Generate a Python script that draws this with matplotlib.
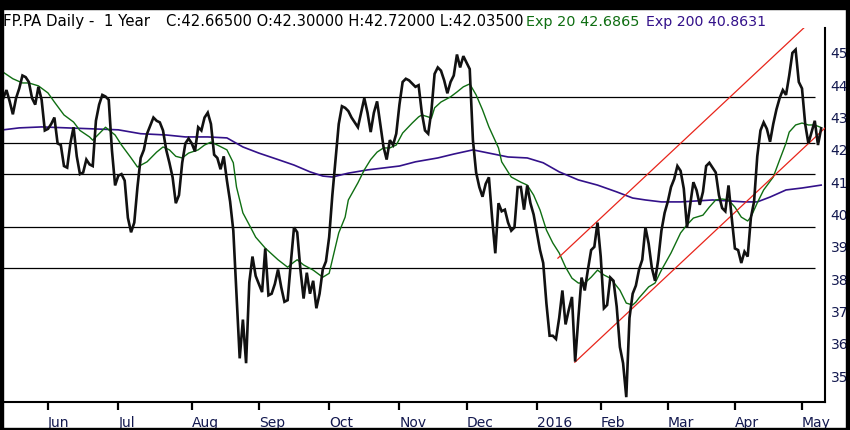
import matplotlib
matplotlib.use("Agg")
import matplotlib.pyplot as plt
from matplotlib.patches import Rectangle

# daily closes, trading day 0 = 12 May 2015
close = [
    43.6, 43.85, 43.5, 43.1, 43.6, 43.9, 44.3, 44.25, 44.1, 43.6,
    43.4, 43.95, 43.55, 42.6, 42.65, 42.8, 43.0, 42.2, 42.15, 41.5,
    41.45, 42.2, 42.7, 41.8, 41.25, 41.3, 41.7, 41.55, 41.5, 42.9,
    43.4, 43.7, 43.65, 43.55, 42.0, 40.9, 41.2, 41.25, 41.05, 39.9,
    39.45, 39.75, 40.85, 41.75, 42.0, 42.5, 42.75, 43.0, 42.9, 42.85,
    42.6, 42.0, 41.6, 41.15, 40.35, 40.6, 41.6, 42.2, 42.35, 42.2,
    41.95, 42.7, 42.6, 43.0, 43.15, 42.8, 41.85, 41.75, 41.4, 41.8,
    41.05, 40.4, 39.5, 37.5, 35.55, 36.75, 35.4, 37.9, 38.7, 38.1,
    37.85, 37.6, 38.95, 37.5, 37.55, 37.85, 38.3, 37.75, 37.3, 37.35,
    38.5, 39.6, 39.45, 38.3, 37.4, 38.2, 37.55, 37.95, 37.1, 37.55,
    38.3, 38.55, 39.3, 40.6, 41.7, 42.8, 43.35, 43.3, 43.2, 43.0,
    42.85, 42.7, 43.15, 43.6, 43.15, 42.55, 43.15, 43.5, 42.8, 42.1,
    41.7, 42.3, 42.15, 42.5, 43.4, 44.1, 44.2, 44.15, 44.05, 43.95,
    44.0, 43.15, 42.6, 42.5, 43.2, 44.35, 44.55, 44.45, 44.15, 43.75,
    44.1, 44.3, 44.95, 44.55, 44.9, 44.7, 44.5, 42.3, 41.3, 40.85,
    40.55, 40.95, 41.15, 39.9, 38.8, 40.35, 40.1, 40.15, 39.75, 39.5,
    39.6, 40.85, 40.85, 40.15, 40.9, 40.35, 40.0, 39.45, 38.9, 38.5,
    37.25, 36.25, 36.25, 36.15, 36.8, 37.65, 36.6, 37.05, 37.45, 35.45,
    36.8, 38.05, 37.65, 38.3, 38.9, 39.0, 39.75, 38.7, 37.1, 37.2,
    38.05, 37.95, 37.15, 35.9, 35.4, 34.35, 36.8, 37.55, 37.8, 38.3,
    38.6, 39.6, 39.1, 38.35, 37.95, 38.6, 39.5, 40.05, 40.4, 40.85,
    41.1, 41.5, 41.35, 40.8, 39.6, 40.3, 41.0, 40.75, 40.3, 40.7,
    41.5, 41.6, 41.45, 41.3, 40.6, 40.2, 40.1, 40.9, 39.9, 38.95,
    38.9, 38.5, 38.85, 38.7, 39.9, 40.4, 41.8, 42.6, 42.85, 42.65,
    42.25, 42.8, 43.25, 43.6, 43.85, 43.7, 44.3, 45.0, 45.1, 44.1,
    43.9, 42.8, 42.2, 42.55, 42.9, 42.15, 42.665,
]

ema20_day = [0, 3, 6, 8, 11, 14, 16, 19, 22, 24, 27, 28, 30, 32, 35, 37, 40, 42,
             45, 48, 50, 52, 54, 56, 58, 61, 63, 65, 67, 70, 72, 73, 75, 77, 79,
             82, 86, 89, 91, 92, 94, 97, 100, 102, 103, 105, 107, 108, 111, 113,
             115, 117, 119, 121, 123, 125, 128, 130, 131, 133, 134, 135, 137, 140,
             142, 144, 146, 148, 150, 152, 155, 156, 159, 162, 164, 166, 168, 170,
             172, 174, 176, 178, 180, 182, 184, 186, 188, 190, 193, 195, 197, 198,
             199, 202, 204, 206, 209, 212, 214, 216, 219, 221, 223, 225, 227, 229,
             231, 233, 234, 236, 238, 241, 243, 245, 246, 248, 250, 252, 254, 256]
ema20 = [44.4, 44.2, 44.07, 44.07, 43.98, 43.76, 43.48, 43.08, 42.86, 42.6, 42.4,
         42.3, 42.5, 42.7, 42.46, 42.15, 41.75, 41.47, 41.63, 41.93, 42.09, 42.0,
         41.8, 41.75, 41.9, 42.0, 42.15, 42.24, 42.15, 42.0, 41.6, 40.85, 40.05,
         39.68, 39.3, 38.96, 38.6, 38.37, 38.53, 38.6, 38.44, 38.28, 38.06, 38.18,
         38.6, 39.43, 39.92, 40.45, 40.98, 41.38, 41.7, 41.93, 42.06, 42.06, 42.15,
         42.52, 42.83, 43.02, 43.08, 43.02, 42.98, 43.3, 43.48, 43.64, 43.79, 43.95,
         44.04, 43.7, 43.24, 42.71, 42.06, 41.63, 41.16, 41.0, 40.91, 40.6, 40.14,
         39.52, 39.12, 38.81, 38.37, 38.03, 37.88, 37.88, 38.06, 38.28, 38.13,
         38.03, 37.66, 37.26, 37.2, 37.29, 37.42, 37.76, 37.88, 38.28, 38.81, 39.43,
         39.68, 39.89, 39.98, 40.23, 40.45, 40.48, 40.45, 40.23, 39.92, 39.8, 39.92,
         40.36, 40.76, 41.16, 41.69, 42.21, 42.55, 42.77, 42.83, 42.77, 42.77, 42.69]

ema200_day = [0, 5, 12, 20, 28, 36, 43, 51, 57, 64, 70, 75, 80, 86, 91, 96, 100,
              103, 108, 114, 119, 124, 129, 136, 141, 147, 152, 158, 164, 169, 174,
              180, 186, 192, 197, 201, 206, 212, 217, 222, 227, 232, 236, 240, 245,
              250, 256]
ema200 = [42.62, 42.68, 42.71, 42.68, 42.65, 42.62, 42.5, 42.46, 42.4, 42.4, 42.37,
          42.09, 41.9, 41.7, 41.53, 41.32, 41.19, 41.16, 41.28, 41.38, 41.44, 41.5,
          41.63, 41.75, 41.87, 42.0, 41.9, 41.78, 41.75, 41.6, 41.32, 41.07, 40.91,
          40.7, 40.51, 40.45, 40.39, 40.39, 40.42, 40.45, 40.42, 40.39, 40.39, 40.54,
          40.76, 40.82, 40.91]

levels = [43.64, 42.21, 41.25, 39.61, 38.34]
upper_day = [173.6, 252.5]
upper_val = [38.65, 45.95]
lower_day = [178.9, 258.0]
lower_val = [35.43, 42.75]

month_start = [14, 36, 59, 80, 102, 124, 145, 167, 187, 208, 229, 250]
month_labels = ["Jun", "Jul", "Aug", "Sep", "Oct", "Nov", "Dec", "2016",
                "Feb", "Mar", "Apr", "May"]

navy = "#13194f"
green = "#0f6e12"
purple = "#33118a"

fig = plt.figure(figsize=(8.5, 4.3), dpi=100)
ax = fig.add_axes([2 / 850, 28 / 430, 823 / 850, 374 / 430])

ax.hlines(levels, -1, 254, colors="black", linewidth=0.9, zorder=1)
ax.plot(ema200_day, ema200, color=purple, linewidth=1.2, zorder=2)
ax.plot(ema20_day, ema20, color=green, linewidth=1.0, zorder=3)
ax.plot(upper_day, upper_val, color="#e8251b", linewidth=0.9, zorder=4)
ax.plot(lower_day, lower_val, color="#e8251b", linewidth=0.9, zorder=4)
ax.plot(range(len(close)), close, color="#111111", linewidth=1.9, zorder=5,
        solid_joinstyle="miter")

ax.set_xlim(-0.4, 257.2)
ax.set_ylim(34.2, 45.77)

for s in ["left", "top"]:
    ax.spines[s].set_visible(False)
for s in ["right", "bottom"]:
    ax.spines[s].set_linewidth(1.5)
    ax.spines[s].set_color("black")

ax.yaxis.tick_right()
ax.set_yticks(range(35, 46))
ax.tick_params(axis="y", length=0, pad=4, labelsize=10, labelcolor=navy)
ax.set_xticks(month_start)
ax.set_xticklabels(month_labels)
ax.tick_params(axis="x", length=6, width=1.6, pad=4, labelsize=10,
               labelcolor=navy, color="black")
for lab in ax.get_xticklabels():
    lab.set_ha("left")

# header, pieces placed where they sit in the original
y_txt = 1 - 26 / 430
fig.text(3 / 850, y_txt, "FP.PA Daily -  1 Year", fontsize=10.8,
         color="black", va="baseline")
fig.text(166 / 850, y_txt, "C:42.66500 O:42.30000 H:42.72000 L:42.03500",
         fontsize=10.6, color="black", va="baseline")
fig.text(526 / 850, y_txt, "Exp 20 42.6865", fontsize=10.4, color=green,
         va="baseline")
fig.text(646 / 850, y_txt, "Exp 200 40.8631", fontsize=10.2, color=purple,
         va="baseline")

# black frame round the picture
for r in [(0, 1 - 9 / 430, 1, 9 / 430), (0, 0, 2.5 / 850, 1),
          (0, 0, 1, 2.5 / 430), (1 - 4 / 850, 0, 4 / 850, 1)]:
    fig.add_artist(Rectangle(r[:2], r[2], r[3], transform=fig.transFigure,
                             color="black", zorder=10))

fig.savefig("out.png", dpi=100)
